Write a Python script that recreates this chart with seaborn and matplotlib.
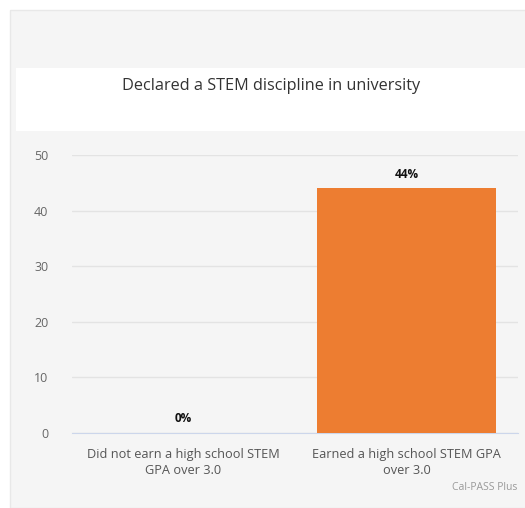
import matplotlib.pyplot as plt
import seaborn as sns
import pandas as pd
from matplotlib.patches import Rectangle

categories = ["Did not earn a high school STEM\nGPA over 3.0",
              "Earned a high school STEM GPA\nover 3.0"]
values = [0, 44]
labels = ["0%", "44%"]
yticks = [0, 10, 20, 30, 40, 50]

W, H = 525, 508
sns.set_style("white")
plt.rcParams['font.family'] = ['Open Sans', 'DejaVu Sans']

fig = plt.figure(figsize=(W / 100, H / 100), dpi=100, facecolor="white")

# gray card and white title band
fig.patches.append(Rectangle((10 / W, 0), 1, 1 - 10 / H, transform=fig.transFigure,
                             facecolor="#f5f5f5", edgecolor="#e8e8e8", lw=1, zorder=-2))
fig.patches.append(Rectangle((16 / W, 1 - 131 / H), 1, 63 / H, transform=fig.transFigure,
                             facecolor="white", edgecolor="none", zorder=-1))
fig.text(271 / W, 1 - 86 / H, "Declared a STEM discipline in university",
         ha="center", va="center", fontsize=11.7, color="#333333")

ax = fig.add_axes([72 / W, 1 - 433 / H, (518 - 72) / W, (433 - 155) / H])
ax.set_facecolor("none")
df = pd.DataFrame({"cat": categories, "val": values})
sns.barplot(data=df, x="cat", y="val", color="#ED7D31", saturation=1, width=0.8,
            edgecolor="none", linewidth=0, ax=ax, zorder=3)

for i, (v, t) in enumerate(zip(values, labels)):
    ax.text(i, v + 1.4, t, ha="center", va="bottom", fontsize=8.5,
            fontweight="bold", color="#111111")

ax.set_ylim(0, 50)
ax.set_xlim(-0.5, 1.5)
ax.set_yticks(yticks)
ax.yaxis.grid(True, color="#e3e3e3", lw=1)
ax.set_axisbelow(True)
for s in ["top", "right", "left"]:
    ax.spines[s].set_visible(False)
ax.spines["bottom"].set_color("#ccd6eb")
ax.tick_params(axis="y", length=0, pad=17, labelsize=9, labelcolor="#666666")
ax.set_xticks([-0.5, 0.5, 1.5], minor=True)
ax.tick_params(axis="x", which="major", length=0, pad=11, labelsize=9.2, labelcolor="#555555")
ax.tick_params(axis="x", which="minor", length=8, color="#ccd6eb", width=1)
for lab in ax.get_xticklabels():
    lab.set_linespacing(1.25)
ax.set_xlabel("")
ax.set_ylabel("")

fig.text(517 / W, 1 - 488 / H, "Cal-PASS Plus", ha="right", va="center",
         fontsize=7.5, color="#999999")

fig.savefig("out.png", dpi=100, facecolor="white")
